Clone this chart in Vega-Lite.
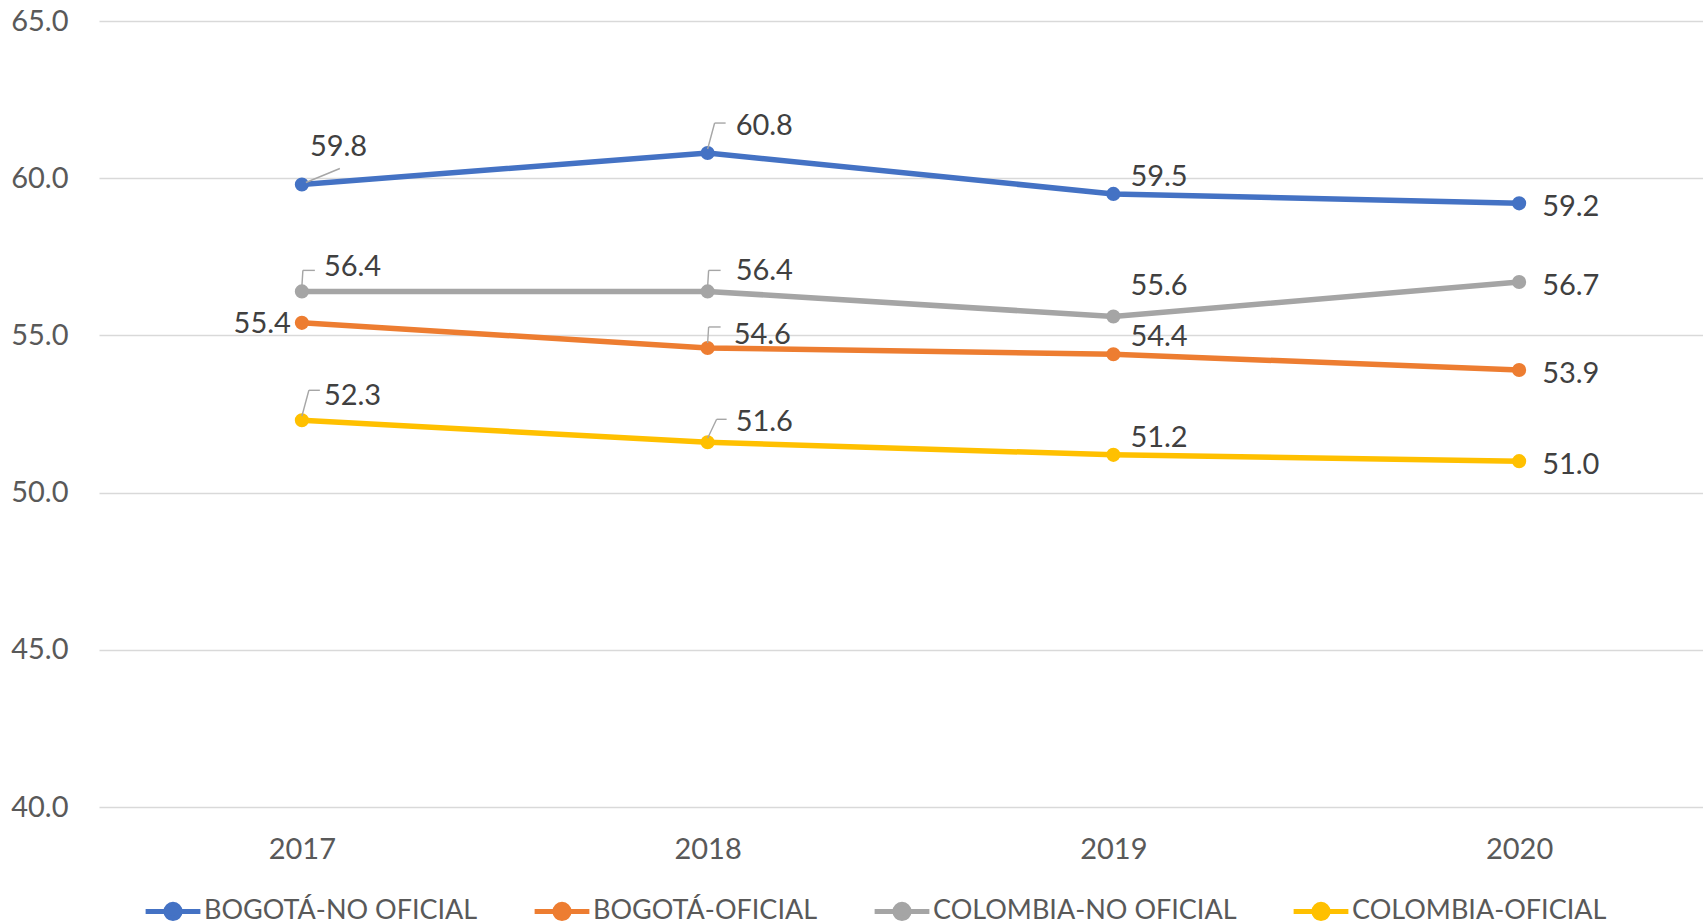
{
  "$schema": "https://vega.github.io/schema/vega-lite/v6.json",
  "autosize": {"type": "none"},
  "padding": {"left": 99, "top": 21, "right": 0, "bottom": 117},
  "width": 1623,
  "height": 786,
  "background": "white",
  "config": {
    "font": "Lato",
    "view": {"stroke": null},
    "axis": {"labelFont": "Lato", "labelColor": "#595959", "labelFontSize": 29, "ticks": false, "domain": false, "title": null},
    "text": {"fontSize": 29, "color": "#404040", "font": "Lato", "baseline": "middle", "align": "left"},
    "rule": {"color": "#A6A6A6", "strokeWidth": 1.4}
  },
  "data": {
    "values": [
      {"year": "2017", "serie": "BOGOTÁ-NO OFICIAL", "valor": 59.8},
      {"year": "2018", "serie": "BOGOTÁ-NO OFICIAL", "valor": 60.8},
      {"year": "2019", "serie": "BOGOTÁ-NO OFICIAL", "valor": 59.5},
      {"year": "2020", "serie": "BOGOTÁ-NO OFICIAL", "valor": 59.2},
      {"year": "2017", "serie": "BOGOTÁ-OFICIAL", "valor": 55.4},
      {"year": "2018", "serie": "BOGOTÁ-OFICIAL", "valor": 54.6},
      {"year": "2019", "serie": "BOGOTÁ-OFICIAL", "valor": 54.4},
      {"year": "2020", "serie": "BOGOTÁ-OFICIAL", "valor": 53.9},
      {"year": "2017", "serie": "COLOMBIA-NO OFICIAL", "valor": 56.4},
      {"year": "2018", "serie": "COLOMBIA-NO OFICIAL", "valor": 56.4},
      {"year": "2019", "serie": "COLOMBIA-NO OFICIAL", "valor": 55.6},
      {"year": "2020", "serie": "COLOMBIA-NO OFICIAL", "valor": 56.7},
      {"year": "2017", "serie": "COLOMBIA-OFICIAL", "valor": 52.3},
      {"year": "2018", "serie": "COLOMBIA-OFICIAL", "valor": 51.6},
      {"year": "2019", "serie": "COLOMBIA-OFICIAL", "valor": 51.2},
      {"year": "2020", "serie": "COLOMBIA-OFICIAL", "valor": 51.0}
    ]
  },
  "encoding": {
    "x": {"field": "year", "type": "ordinal", "scale": {"type": "point", "padding": 0.5},
          "axis": {"labelAngle": 0, "labelPadding": 28, "grid": false}},
    "y": {"field": "valor", "type": "quantitative", "scale": {"domain": [40, 65], "nice": false, "zero": false},
          "axis": {"values": [40, 45, 50, 55, 60, 65], "format": ".1f", "labelPadding": 31, "gridColor": "#D9D9D9", "gridWidth": 1.5}}
  },
  "layer": [
    {
      "mark": {"type": "line", "strokeWidth": 5.5},
      "encoding": {
        "color": {"field": "serie", "type": "nominal",
          "scale": {"domain": ["BOGOTÁ-NO OFICIAL", "BOGOTÁ-OFICIAL", "COLOMBIA-NO OFICIAL", "COLOMBIA-OFICIAL"],
                    "range": ["#4472C4", "#ED7D31", "#A5A5A5", "#FFC000"]},
          "legend": {
            "orient": "none", "legendX": 44, "legendY": 860, "direction": "horizontal", "title": null,
            "symbolType": "M-1,0H1M-0.26,0A0.26,0.26,0,1,1,0.26,0A0.26,0.26,0,1,1,-0.26,0Z",
            "symbolSize": 3000, "symbolStrokeWidth": 5,
            "labelFont": "Lato", "labelFontSize": 27, "labelColor": "#595959", "labelOffset": 1,
            "columnPadding": 46, "labelLimit": 500,
            "encode": {"symbols": {"update": {"fill": {"scale": "color", "field": "value"}, "stroke": {"scale": "color", "field": "value"}, "opacity": {"value": 1}}}}
          }}
      }
    },
    {
      "mark": {"type": "point", "filled": true, "size": 200, "opacity": 1},
      "encoding": {"color": {"field": "serie", "type": "nominal", "legend": null}}
    },
    {
      "transform": [{"filter": "datum.year == '2017' && datum.serie == 'BOGOTÁ-NO OFICIAL'"}],
      "mark": {"type": "rule", "xOffset": 4, "yOffset": -2, "x2Offset": 38, "y2Offset": -16},
      "encoding": {"x2": {"field": "year"}, "y2": {"field": "valor"}}
    },
    {
      "transform": [{"filter": "(datum.serie == 'COLOMBIA-NO OFICIAL' && (datum.year == '2017' || datum.year == '2018')) || (datum.serie == 'BOGOTÁ-OFICIAL' && datum.year == '2018')"}],
      "mark": {"type": "rule", "xOffset": 0, "yOffset": -5, "x2Offset": 1, "y2Offset": -21},
      "encoding": {"x2": {"field": "year"}, "y2": {"field": "valor"}}
    },
    {
      "transform": [{"filter": "(datum.serie == 'COLOMBIA-NO OFICIAL' && (datum.year == '2017' || datum.year == '2018')) || (datum.serie == 'BOGOTÁ-OFICIAL' && datum.year == '2018')"}],
      "mark": {"type": "rule", "xOffset": 1, "yOffset": -21, "x2Offset": 13, "y2Offset": -21},
      "encoding": {"x2": {"field": "year"}, "y2": {"field": "valor"}}
    },
    {
      "transform": [{"filter": "(datum.serie == 'BOGOTÁ-NO OFICIAL' && datum.year == '2018') || (datum.serie == 'COLOMBIA-OFICIAL' && datum.year == '2017')"}],
      "mark": {"type": "rule", "xOffset": 0, "yOffset": -4, "x2Offset": 7, "y2Offset": -30},
      "encoding": {"x2": {"field": "year"}, "y2": {"field": "valor"}}
    },
    {
      "transform": [{"filter": "(datum.serie == 'BOGOTÁ-NO OFICIAL' && datum.year == '2018') || (datum.serie == 'COLOMBIA-OFICIAL' && datum.year == '2017')"}],
      "mark": {"type": "rule", "xOffset": 7, "yOffset": -30, "x2Offset": 18, "y2Offset": -30},
      "encoding": {"x2": {"field": "year"}, "y2": {"field": "valor"}}
    },
    {
      "transform": [{"filter": "datum.serie == 'COLOMBIA-OFICIAL' && datum.year == '2018'"}],
      "mark": {"type": "rule", "xOffset": 0, "yOffset": -4, "x2Offset": 9, "y2Offset": -23},
      "encoding": {"x2": {"field": "year"}, "y2": {"field": "valor"}}
    },
    {
      "transform": [{"filter": "datum.serie == 'COLOMBIA-OFICIAL' && datum.year == '2018'"}],
      "mark": {"type": "rule", "xOffset": 9, "yOffset": -23, "x2Offset": 19, "y2Offset": -23},
      "encoding": {"x2": {"field": "year"}, "y2": {"field": "valor"}}
    },
    {
      "transform": [{"filter": "datum.year == '2017' && datum.serie == 'BOGOTÁ-NO OFICIAL'"}],
      "mark": {"type": "text", "dx": 8, "dy": -37},
      "encoding": {"text": {"field": "valor", "type": "quantitative", "format": ".1f"}}
    },
    {
      "transform": [{"filter": "datum.year == '2017' && (datum.serie == 'COLOMBIA-NO OFICIAL' || datum.serie == 'COLOMBIA-OFICIAL')"}],
      "mark": {"type": "text", "dx": 22, "dy": -24},
      "encoding": {"text": {"field": "valor", "type": "quantitative", "format": ".1f"}}
    },
    {
      "transform": [{"filter": "datum.year == '2017' && datum.serie == 'BOGOTÁ-OFICIAL'"}],
      "mark": {"type": "text", "align": "right", "dx": -11, "dy": 1},
      "encoding": {"text": {"field": "valor", "type": "quantitative", "format": ".1f"}}
    },
    {
      "transform": [{"filter": "datum.year == '2018' && datum.serie == 'BOGOTÁ-NO OFICIAL'"}],
      "mark": {"type": "text", "dx": 28, "dy": -27},
      "encoding": {"text": {"field": "valor", "type": "quantitative", "format": ".1f"}}
    },
    {
      "transform": [{"filter": "datum.year == '2018' && (datum.serie == 'COLOMBIA-NO OFICIAL' || datum.serie == 'COLOMBIA-OFICIAL')"}],
      "mark": {"type": "text", "dx": 28, "dy": -20},
      "encoding": {"text": {"field": "valor", "type": "quantitative", "format": ".1f"}}
    },
    {
      "transform": [{"filter": "datum.year == '2018' && datum.serie == 'BOGOTÁ-OFICIAL'"}],
      "mark": {"type": "text", "dx": 26, "dy": -13},
      "encoding": {"text": {"field": "valor", "type": "quantitative", "format": ".1f"}}
    },
    {
      "transform": [{"filter": "datum.year == '2019' && datum.serie != 'COLOMBIA-NO OFICIAL'"}],
      "mark": {"type": "text", "dx": 17, "dy": -17},
      "encoding": {"text": {"field": "valor", "type": "quantitative", "format": ".1f"}}
    },
    {
      "transform": [{"filter": "datum.year == '2019' && datum.serie == 'COLOMBIA-NO OFICIAL'"}],
      "mark": {"type": "text", "dx": 17, "dy": -31},
      "encoding": {"text": {"field": "valor", "type": "quantitative", "format": ".1f"}}
    },
    {
      "transform": [{"filter": "datum.year == '2020'"}],
      "mark": {"type": "text", "dx": 23, "dy": 4},
      "encoding": {"text": {"field": "valor", "type": "quantitative", "format": ".1f"}}
    }
  ]
}
